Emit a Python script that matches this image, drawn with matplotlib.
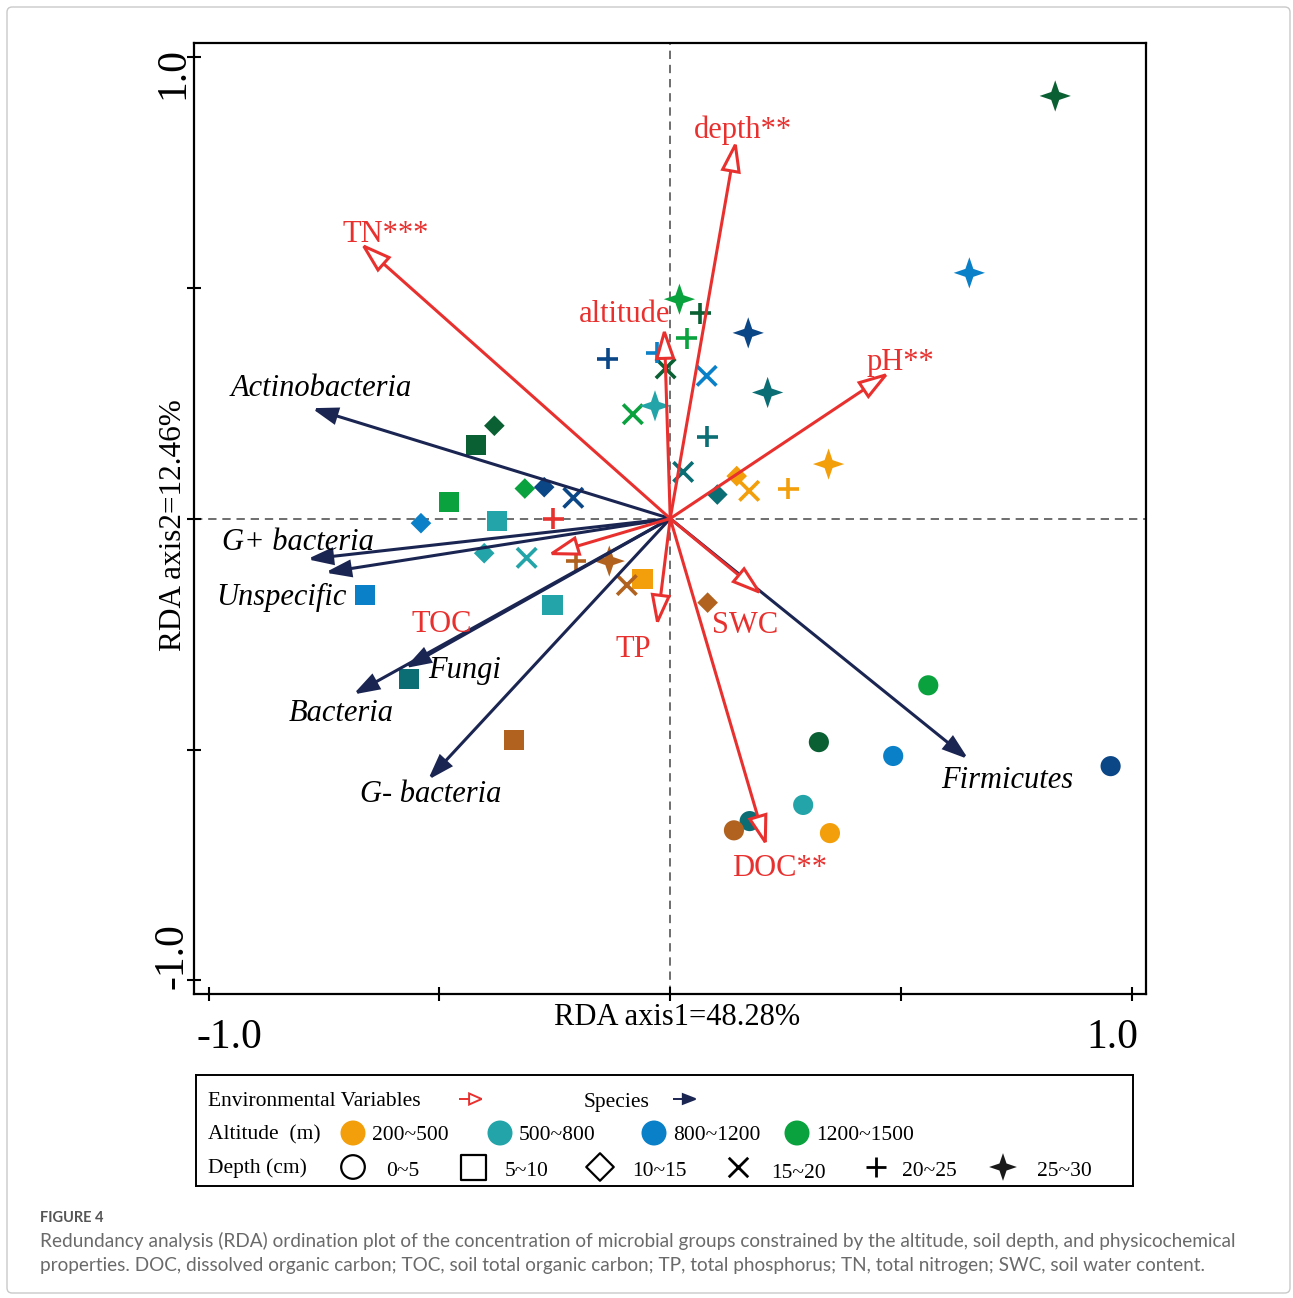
import numpy as np
import matplotlib
matplotlib.use('Agg')
import matplotlib.pyplot as plt
from matplotlib.patches import FancyArrowPatch, FancyBboxPatch

plt.rcParams['font.family'] = ['Liberation Serif', 'DejaVu Serif']

# ---- data -------------------------------------------------------------
# environmental vectors (RDA scores)
env_names = ['depth**', 'TN***', 'altitude', 'pH**', 'TOC', 'TP', 'SWC', 'DOC**']
env_x = [0.143, -0.672, -0.013, 0.476, -0.267, -0.029, 0.201, 0.209]
env_y = [0.820, 0.597, 0.415, 0.317, -0.079, -0.234, -0.166, -0.711]

# microbial group vectors
species_names = ['Actinobacteria', 'G+ bacteria', 'Unspecific', 'Fungi',
                 'Bacteria', 'G- bacteria', 'Firmicutes']
species_x = [-0.777, -0.787, -0.748, -0.575, -0.687, -0.525, 0.646]
species_y = [0.239, -0.088, -0.117, -0.324, -0.381, -0.566, -0.521]

# samples: depth layer, site colour key, site scores
depth_layers = ['0~5', '5~10', '10~15', '15~20', '20~25', '25~30']
sample_depth = (['0~5'] * 8 + ['5~10'] * 8 + ['10~15'] * 8 +
                ['15~20'] * 8 + ['20~25'] * 8 + ['25~30'] * 8)
sample_site = [
    'green', 'dkgreen', 'blue', 'navy', 'teal', 'dkteal', 'brown', 'orange',
    'dkgreen', 'green', 'teal', 'blue', 'teal', 'dkteal', 'brown', 'orange',
    'dkgreen', 'green', 'navy', 'blue', 'teal', 'dkteal', 'orange', 'brown',
    'navy', 'teal', 'brown', 'green', 'dkgreen', 'blue', 'dkteal', 'orange',
    'red', 'brown', 'navy', 'blue', 'green', 'dkgreen', 'dkteal', 'orange',
    'dkgreen', 'blue', 'green', 'navy', 'dkteal', 'teal', 'orange', 'brown',
]
sample_x = [
    0.559, 0.322, 0.483, 0.954, 0.288, 0.172, 0.138, 0.346,
    -0.421, -0.479, -0.375, -0.661, -0.255, -0.565, -0.338, -0.060,
    -0.381, -0.315, -0.273, -0.540, -0.403, 0.102, 0.144, 0.081,
    -0.210, -0.311, -0.094, -0.081, -0.010, 0.079, 0.028, 0.171,
    -0.253, -0.204, -0.135, -0.029, 0.036, 0.065, 0.080, 0.256,
    0.834, 0.648, 0.020, 0.169, 0.211, -0.033, 0.343, -0.132,
]
sample_y = [
    -0.361, -0.484, -0.514, -0.536, -0.620, -0.655, -0.675, -0.681,
    0.159, 0.036, -0.005, -0.166, -0.187, -0.348, -0.480, -0.130,
    0.201, 0.065, 0.068, -0.010, -0.075, 0.052, 0.092, -0.182,
    0.045, -0.085, -0.144, 0.226, 0.325, 0.309, 0.101, 0.060,
    0.000, -0.091, 0.346, 0.359, 0.390, 0.444, 0.177, 0.065,
    0.915, 0.532, 0.475, 0.402, 0.273, 0.244, 0.118, -0.092,
]

altitude_groups = ['200~500', '500~800', '800~1200', '1200~1500']

# ---- styles -----------------------------------------------------------
site_colors = {
    'orange': '#F39F0B', 'teal': '#22A4A8', 'blue': '#0A80C8',
    'green': '#0AA23E', 'dkgreen': '#0A5F33', 'navy': '#0B4686',
    'dkteal': '#0A6E74', 'brown': '#B2621F', 'red': '#E6322F',
}
altitude_colors = ['#F39F0B', '#22A4A8', '#0A80C8', '#0AA23E']
ENV_RED = '#E8312F'
SPEC_NAVY = '#1B2552'

# four-pointed star used for the 25~30 cm layer
star = [(r * np.cos(np.pi / 2 + k * np.pi / 4), r * np.sin(np.pi / 2 + k * np.pi / 4))
        for k, r in enumerate([1, 0.36] * 4)]

depth_markers = {
    '0~5': dict(marker='o', s=14.5 ** 2, linewidths=0),
    '5~10': dict(marker='s', s=14.5 ** 2, linewidths=0),
    '10~15': dict(marker='D', s=10.5 ** 2, linewidths=0),
    '15~20': dict(marker='x', s=14 ** 2, linewidths=2.6),
    '20~25': dict(marker='+', s=15 ** 2, linewidths=2.6),
    '25~30': dict(marker=star, s=22.5 ** 2, linewidths=0),
}

env_label_pos = {
    'depth**': (0.158, 0.840), 'TN***': (-0.617, 0.615), 'altitude': (-0.100, 0.442),
    'pH**': (0.498, 0.338), 'TOC': (-0.494, -0.229), 'TP': (-0.081, -0.283),
    'SWC': (0.162, -0.231), 'DOC**': (0.236, -0.758),
}
species_label_pos = {
    'Actinobacteria': (-0.756, 0.281), 'G+ bacteria': (-0.806, -0.051),
    'Unspecific': (-0.843, -0.170), 'Fungi': (-0.445, -0.328),
    'Bacteria': (-0.713, -0.421), 'G- bacteria': (-0.520, -0.598),
    'Firmicutes': (0.730, -0.568),
}


def vector(ax, x0, y0, x1, y1, color, face, lw, hl, hw, z):
    """
    draw one biplot vector from (x0, y0) to (x1, y1).
    """
    arr = FancyArrowPatch((x0, y0), (x1, y1),
                          arrowstyle='-|>,head_length=%s,head_width=%s' % (hl, hw),
                          mutation_scale=1, lw=lw, edgecolor=color, facecolor=face,
                          shrinkA=0, shrinkB=0, zorder=z, joinstyle='miter',
                          capstyle='butt', clip_on=False)
    ax.add_patch(arr)


fig = plt.figure(figsize=(12.93, 12.98), dpi=100)
W, H = 1293.0, 1298.0

# outer frame of the figure panel
fig.patches.append(FancyBboxPatch((7 / W, 5 / H), 1283 / W, 1286 / H,
                                  boxstyle='round,pad=0,rounding_size=0.004',
                                  transform=fig.transFigure, fill=False,
                                  edgecolor='#c9c9c9', lw=1.0))

ax = fig.add_axes([194.3 / W, 1 - 994.3 / H, 951.4 / W, 951.0 / H])
ax.set_xlim(-1.031, 1.030)
ax.set_ylim(-1.030, 1.029)

for s in ax.spines.values():
    s.set_linewidth(1.6)
ax.set_xticks([-1, -0.5, 0, 0.5, 1])
ax.set_yticks([-1, -0.5, 0, 0.5, 1])
ax.set_xticklabels([])
ax.set_yticklabels([])
ax.tick_params(direction='inout', length=10, width=1.5)

ax.axhline(0, color='#555555', lw=1.2, ls=(0, (5, 3.5)), zorder=1)
ax.axvline(0, color='#555555', lw=1.2, ls=(0, (5, 3.5)), zorder=1)

# end tick labels and axis titles
xt = ax.get_xaxis_transform()
yt = ax.get_yaxis_transform()
ax.text(-0.954, -0.0565, '-1.0', transform=xt, fontsize=30, ha='center', va='baseline')
ax.text(0.958, -0.0565, '1.0', transform=xt, fontsize=30, ha='center', va='baseline')
ax.text(-0.0119, 0.965, '1.0', transform=yt, fontsize=30, rotation=90,
        rotation_mode='anchor', ha='center', va='baseline')
ax.text(-0.0119, -0.947, '-1.0', transform=yt, fontsize=30, rotation=90,
        rotation_mode='anchor', ha='center', va='baseline')
ax.text(0.5074, -0.0323, 'RDA axis1=48.28%', transform=ax.transAxes, fontsize=22,
        ha='center', va='baseline')
ax.text(-0.0138, 0.493, 'RDA axis2=12.46%', transform=ax.transAxes, fontsize=22.5,
        rotation=90, rotation_mode='anchor', ha='center', va='baseline')

# samples
sx = np.array(sample_x)
sy = np.array(sample_y)
sc = np.array([site_colors[k] for k in sample_site])
sd = np.array(sample_depth)
for d in depth_layers:
    m = sd == d
    st = depth_markers[d]
    if st['marker'] in ('x', '+'):
        ax.scatter(sx[m], sy[m], c=list(sc[m]), zorder=3, **st)
    else:
        ax.scatter(sx[m], sy[m], c=list(sc[m]), edgecolors='none', zorder=3, **st)

# species vectors
for name, x, y in zip(species_names, species_x, species_y):
    vector(ax, 0, 0, x, y, SPEC_NAVY, SPEC_NAVY, 2.2, 15, 5, 4)
    lx, ly = species_label_pos[name]
    ax.text(lx, ly, name, fontsize=22, style='italic', ha='center', va='center',
            zorder=6)

# environmental vectors
for name, x, y in zip(env_names, env_x, env_y):
    vector(ax, 0, 0, x, y, ENV_RED, 'white', 2.2, 19, 6, 5)
    lx, ly = env_label_pos[name]
    ax.text(lx, ly, name, fontsize=22, color=ENV_RED, ha='center', va='center',
            zorder=6)

# ---- legend box ---------------------------------------------------------
lax = fig.add_axes([196 / W, 1 - 1186 / H, 937 / W, 111 / H])
lax.set_xlim(196, 1133)
lax.set_ylim(1186, 1075)
lax.set_xticks([])
lax.set_yticks([])
for s in lax.spines.values():
    s.set_linewidth(1.4)

fs = 15.5
lax.text(208, 1101, 'Environmental Variables', fontsize=fs, va='center')
vector(lax, 459, 1099, 484, 1099, ENV_RED, 'white', 1.4, 9, 4, 3)
lax.text(584, 1102, 'Species', fontsize=fs, va='center')
vector(lax, 673, 1099, 698, 1099, SPEC_NAVY, SPEC_NAVY, 1.4, 9, 3.5, 3)

lax.text(208, 1135, 'Altitude  (m)', fontsize=fs, va='center')
for gx, lab, col in zip([353, 500, 654, 797], altitude_groups, altitude_colors):
    lax.scatter([gx], [1133], s=18 ** 2, c=col, edgecolors='none')
    lax.text(gx + 19, 1136, lab, fontsize=fs, va='center')

lax.text(208, 1168, 'Depth (cm)', fontsize=fs, va='center')
leg_x = [353, 473, 600, 738, 876, 1003]
leg_text_x = [386, 505, 632, 771, 902, 1037]
leg_text_y = [1171, 1171, 1171, 1174, 1171, 1171]
for d, mx, tx, ty in zip(depth_layers, leg_x, leg_text_x, leg_text_y):
    st = depth_markers[d]
    if st['marker'] in ('o', 's', 'D'):
        size = {'o': 17, 's': 18, 'D': 14}[st['marker']] ** 2
        lax.scatter([mx], [1167], marker=st['marker'], s=size, facecolors='none',
                    edgecolors='black', linewidths=1.6)
    elif st['marker'] in ('x', '+'):
        lax.scatter([mx], [1167], marker=st['marker'], s=14 ** 2, c='black',
                    linewidths=2.0)
    else:
        lax.scatter([mx], [1167], marker=star, s=20 ** 2, c='#1a1a1a',
                    edgecolors='none')
    lax.text(tx, ty, d, fontsize=fs, va='center')

# ---- caption ------------------------------------------------------------
cap = ['Lato', 'DejaVu Sans']
fig.text(40 / W, 1 - 1218 / H, 'FIGURE 4', fontsize=10.5, color='#555555',
         family=cap, weight='bold', va='center')
fig.text(40 / W, 1 - 1241 / H,
         'Redundancy analysis (RDA) ordination plot of the concentration of microbial '
         'groups constrained by the altitude, soil depth, and physicochemical',
         fontsize=13.7, color='#6a6a6a', family=cap, va='center')
fig.text(40 / W, 1 - 1265 / H,
         'properties. DOC, dissolved organic carbon; TOC, soil total organic carbon; '
         'TP, total phosphorus; TN, total nitrogen; SWC, soil water content.',
         fontsize=13.7, color='#6a6a6a', family=cap, va='center')

fig.savefig('out.png', dpi=100)
